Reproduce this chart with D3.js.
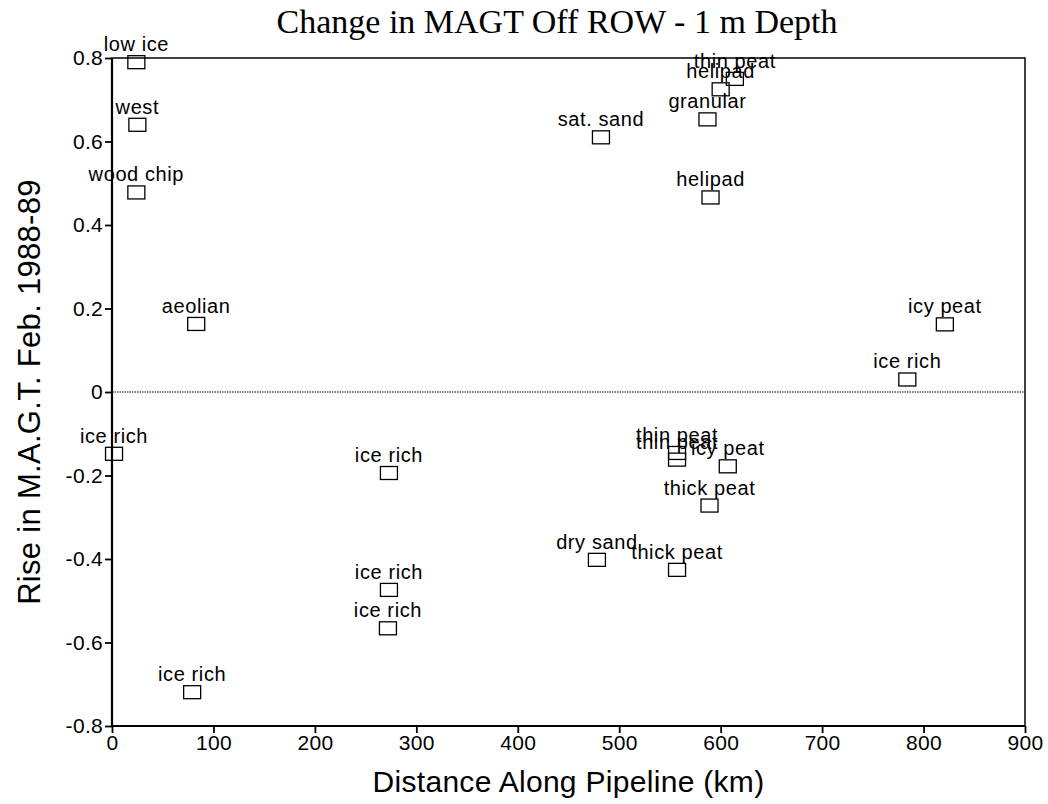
<!DOCTYPE html>
<html>
<head>
<meta charset="utf-8">
<script src="https://cdn.jsdelivr.net/npm/d3@7"></script>
<style>
  body { margin: 0; background: #fff; }
  svg text { font-family: "Liberation Sans", Arial, sans-serif; fill: #000; }
</style>
</head>
<body>
<svg width="1048" height="804"></svg>
<script>
// site names, distance along pipeline (km), rise in MAGT (deg)
const sites = ["low ice", "west", "wood chip", "aeolian", "sat. sand", "helipad", "thin peat",
  "granular", "helipad", "icy peat", "ice rich", "ice rich", "ice rich", "ice rich", "ice rich",
  "ice rich", "thin peat", "thin peat", "icy peat", "thick peat", "dry sand", "thick peat"];
const km = [24, 25, 24, 83, 482, 600, 614, 587, 590, 821, 784, 2, 273, 273, 272, 79, 557, 557, 607, 589, 478, 557];
const rise = [0.79, 0.64, 0.478, 0.163, 0.61, 0.725, 0.75, 0.653, 0.466, 0.162, 0.03, -0.148, -0.194,
  -0.474, -0.566, -0.719, -0.146, -0.162, -0.178, -0.272, -0.402, -0.426];
const xTicks = [0, 100, 200, 300, 400, 500, 600, 700, 800, 900];
const yTicks = [-0.8, -0.6, -0.4, -0.2, 0, 0.2, 0.4, 0.6, 0.8];

const data = sites.map((s, i) => ({ site: s, km: km[i], rise: rise[i] }));

const width = 1048, height = 804;
const margin = { top: 58, right: 23, bottom: 78, left: 112 };
const svg = d3.select("svg");

const x = d3.scaleLinear().domain([0, 900]).range([margin.left, width - margin.right]);
const y = d3.scaleLinear().domain([-0.8, 0.8]).range([height - margin.bottom, margin.top]);

// frame (top and right thin)
svg.append("rect")
  .attr("x", x(0)).attr("y", y(0.8))
  .attr("width", x(900) - x(0)).attr("height", y(-0.8) - y(0.8))
  .attr("fill", "none").attr("stroke", "#000").attr("stroke-width", 1.5);

// zero line, dotted
svg.append("line")
  .attr("x1", x(0)).attr("x2", x(900))
  .attr("y1", y(0)).attr("y2", y(0))
  .attr("stroke", "#000").attr("stroke-width", 1.2)
  .attr("stroke-dasharray", "1.5,1");

const xAxis = svg.append("g")
  .attr("transform", `translate(0,${y(-0.8)})`)
  .call(d3.axisBottom(x).tickValues(xTicks).tickSize(7).tickPadding(2).tickFormat(d => String(d)));

const yAxis = svg.append("g")
  .attr("transform", `translate(${x(0)},0)`)
  .call(d3.axisLeft(y).tickValues(yTicks).tickSize(7).tickPadding(2)
    .tickFormat(d => d === 0 ? "0" : d.toFixed(1)));

[xAxis, yAxis].forEach(g => {
  g.attr("font-family", null).attr("font-size", null);
  g.select(".domain").attr("stroke-width", 2.2);
  g.selectAll(".tick line").attr("stroke-width", 1.8);
  g.selectAll(".tick text")
    .style("font-size", "21px")
    .style("letter-spacing", "0.3px");
});
xAxis.selectAll(".domain").attr("d", `M${x(0)},0H${x(900)}`);
yAxis.selectAll(".domain").attr("d", `M0,${y(-0.8)}V${y(0.8)}`);

// markers
svg.selectAll(".pt")
  .data(data)
  .enter()
  .append("rect")
  .attr("class", "pt")
  .attr("x", d => x(d.km) - 8.5)
  .attr("y", d => y(d.rise) - 6.5)
  .attr("width", 17)
  .attr("height", 13)
  .attr("fill", "none")
  .attr("stroke", "#000")
  .attr("stroke-width", 1.3);

svg.selectAll(".lbl")
  .data(data)
  .enter()
  .append("text")
  .attr("class", "lbl")
  .attr("x", d => x(d.km))
  .attr("y", d => y(d.rise) - 11)
  .style("text-anchor", "middle")
  .style("font-size", "20px")
  .style("letter-spacing", "0.6px")
  .text(d => d.site);

// titles
svg.append("text")
  .attr("x", 557)
  .attr("y", 33)
  .style("text-anchor", "middle")
  .style("font-family", "'Liberation Serif', 'Times New Roman', serif")
  .style("font-size", "34px")
  .text("Change in MAGT Off ROW - 1 m Depth");

svg.append("text")
  .attr("x", (x(0) + x(900)) / 2)
  .attr("y", 792)
  .style("text-anchor", "middle")
  .style("font-size", "30px")
  .style("letter-spacing", "0.3px")
  .text("Distance Along Pipeline (km)");

svg.append("text")
  .attr("transform", `translate(40,${(y(0.8) + y(-0.8)) / 2}) rotate(-90)`)
  .style("text-anchor", "middle")
  .style("font-size", "31px")
  .style("letter-spacing", "0.3px")
  .text("Rise in M.A.G.T. Feb. 1988-89");
</script>
</body>
</html>
